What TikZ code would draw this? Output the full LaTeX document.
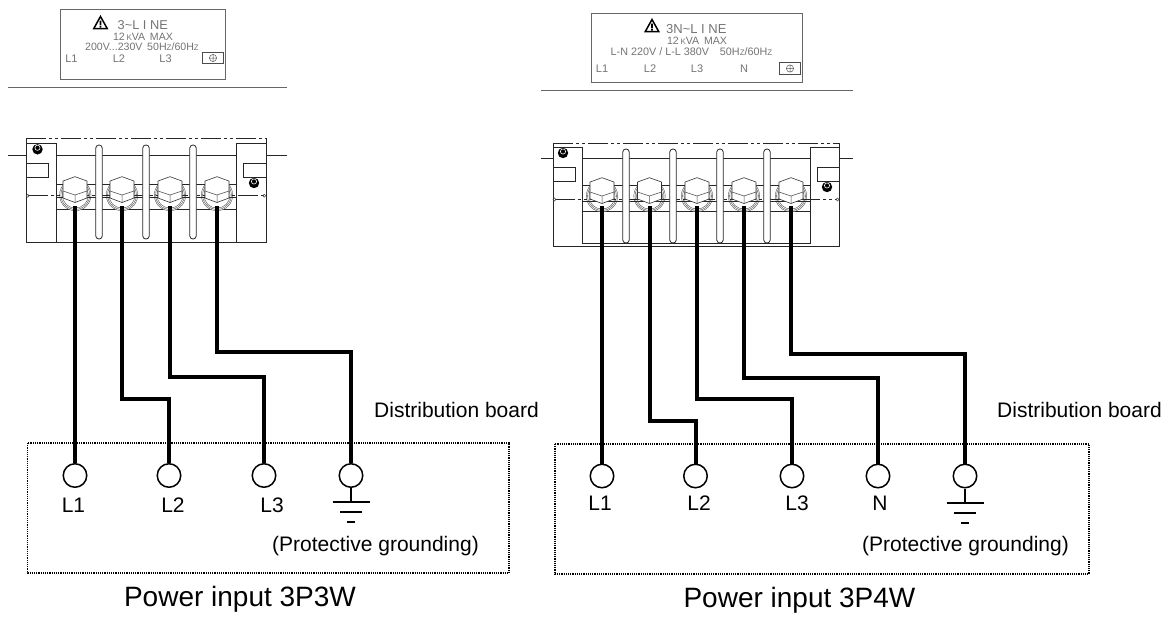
\documentclass[tikz,border=0pt]{standalone}
\usepackage{fontspec}
\setmainfont{Liberation Sans}
\tikzset{
  x=1pt,y=-1pt,
  wire/.style={line width=4pt,black,line join=miter},
  thin line/.style={line width=0.8pt,black!85},
  grayline/.style={line width=0.8pt,black!60},
  dashdot/.style={thin line,dash pattern=on 20pt off 3pt on 3pt off 3pt on 3pt off 3pt},
  dotbox/.style={line width=1.2pt,dash pattern=on 1.2pt off 1pt,black},
  terminal/.style={circle,draw=black,line width=1.5pt,fill=white,minimum size=23.5pt,inner sep=0pt},
  lab/.style={font=\fontsize{21pt}{23pt}\selectfont,inner sep=0pt,text=black},
  captext/.style={font=\fontsize{28pt}{30pt}\selectfont,inner sep=0pt,text=black},
  plab/.style={font=\fontsize{#1}{#1}\selectfont,inner sep=0pt,text=black!55},
  pics/washer/.style={code={
    \fill[white] (0,0) circle (15.7);
    \foreach \r in {15.7,14.4,13.1}{\draw[line width=0.4pt,black!70] (0,0) circle (\r);}
  }},
  pics/hexhead/.style={code={
    \draw[line width=0.6pt,black!80,fill=white] (0,-18.3) -- (12,-14) -- (12,3) -- (0,7.5) -- (-12,3) -- (-12,-14) -- cycle;
    \draw[line width=0.5pt,black!70] (-12,-4) -- (0,0) -- (12,-4) (0,0) -- (0,7.5);
  }},
  pics/screw/.style={code={
    \fill[black] (0,0) circle (5.2);
    \draw[white,line width=0.6pt] (0,-1.5) circle (2.6);
  }},
  pics/warn/.style={code={
    \draw[black,line width=1.5pt,line join=miter,fill=white] (0,-6.5) -- (6.7,5.5) -- (-6.7,5.5) -- cycle;
    \fill[black] (-0.8,-2.5) rectangle (0.8,2) (-0.8,2.9) rectangle (0.8,4.5);
  }},
  pics/pe/.style={code={
    \draw[line width=0.7pt,black!70] (-10.3,-5.7) rectangle (10.3,5.7);
    \draw[line width=0.5pt,black!65] (0,0) circle (3.6) (-3.6,0) -- (3.6,0) (0,-3.6) -- (0,3.6);
  }},
}
\newcommand{\earthsym}[2]{% x, top y
  \draw[line width=1.3pt] (#1,#2) -- (#1,#2+14);
  \draw[line width=1.3pt] (#1-18.5,#2+14) -- (#1+18.5,#2+14);
  \draw[line width=1.5pt] (#1-11,#2+24) -- (#1+11,#2+24);
  \draw[line width=1.7pt] (#1-4,#2+34) -- (#1+4,#2+34);
}
\newcommand{\smz}{{\fontsize{8pt}{8pt}\selectfont Z}}
\begin{document}
\begin{tikzpicture}
\useasboundingbox (0,0) rectangle (1169,616);
% ---------- LEFT plate
\draw[grayline] (60,9) rectangle (225,79);
\pic at (100.5,23) {warn};
\node[plab=12.8pt,anchor=west] (a1) at (117.5,25) {3\textasciitilde L I NE};
\node[plab=10.6pt] (a2) at (143,37) {12\,{\fontsize{8pt}{8pt}\selectfont K}VA\, MAX};
\node[plab=10.6pt] (a3) at (142,47) {200V...230V\, 50H\smz/60H\smz};
\node[plab=11pt] (a4) at (71.5,59) {L1};
\node[plab=11pt] (a5) at (119,59) {L2};
\node[plab=11pt] (a6) at (165.5,59) {L3};
\pic at (213,58) {pe};
\draw[grayline] (8,87) -- (287,87);
% LEFT block
\draw[thin line] (8,155) -- (26,155) (266,155) -- (287,155);
\draw[thin line] (26,138) -- (26,242) -- (266,242) -- (266,138);
\draw[dashdot] (26,138.5) -- (266,138.5);
\draw[thin line] (26,143) -- (56,143) -- (56,242) (266,143) -- (236,143) -- (236,242);
\draw[thin line] (56,155) -- (236,155) (56,184) -- (236,184) (56,209) -- (236,209);
\draw[thin line] (26,163.5) -- (48,163.5) -- (48,177) -- (26,177);
\draw[thin line] (266,163.5) -- (243.5,163.5) -- (243.5,177) -- (266,177);
\foreach \bx in {75.3,122,170,217}{\pic at (\bx,195) {washer};}
\draw[dashdot] (28,195) -- (264,195);
\draw[thin line] (56,197.5) -- (236,197.5);
\draw[line width=0.5pt,black!70] (27.8,195.7) circle (1.5) (264.2,195.7) circle (1.5);
\foreach \sx in {99,146,193}{\draw[thin line,fill=white,rounded corners=3.2pt] (\sx-3.3,145) rectangle (\sx+3.3,239);}
\pic at (37.5,149.3) {screw};
\pic at (254,183) {screw};
\foreach \bx/\nm in {75/la,122/lb,170/lc,217/ld}{
  \pic at (\bx,195) {hexhead};
  \coordinate (\nm) at (\bx,206);
}
\node[terminal] (l1) at (75,475.5) {};
\node[terminal] (l2) at (169,475.5) {};
\node[terminal] (l3) at (264,475.5) {};
\node[terminal] (l4) at (351,475.5) {};
\draw[wire] (la) -- (l1);
\draw[wire] (lb) -- (122,398.5) -| (l2);
\draw[wire] (lc) -- (170,377) -| (l3);
\draw[wire] (ld) -- (217,351.5) -| (l4);
\earthsym{351}{488}
\draw[dotbox] (27.5,443) rectangle (509,573);
\node[lab] (n1) at (73.5,505) {L1};
\node[lab] (n2) at (173,505) {L2};
\node[lab] (n3) at (272,505) {L3};
\node[lab,anchor=east] (n5) at (479,546) {(Protective grounding)};
\node[lab,anchor=west] (n6) at (374,410) {Distribution board};
\node[captext] (n7) at (240,599) {Power input 3P3W};
% ---------- RIGHT plate
\draw[grayline] (591,13) rectangle (802,82);
\pic at (652,26) {warn};
\node[plab=13pt,anchor=west] (b1) at (666,29) {3N\textasciitilde L I NE};
\node[plab=10.6pt] (b2) at (697,40.7) {12\,{\fontsize{8pt}{8pt}\selectfont K}VA\, MAX};
\node[plab=10.8pt] (b3) at (691.5,51.7) {L-N 220V / L-L 380V\quad 50H\smz/60H\smz};
\node[plab=11pt] (b4) at (602,69) {L1};
\node[plab=11pt] (b5) at (650,69) {L2};
\node[plab=11pt] (b6) at (697,69) {L3};
\node[plab=11pt] (b7) at (744,69) {N};
\pic at (790,68.5) {pe};
\draw[grayline] (541,90) -- (853,90);
% RIGHT block
\draw[thin line] (541,158.5) -- (553,158.5) (839,158.5) -- (853,158.5);
\draw[thin line] (553,143) -- (553,246) -- (839,246) -- (839,143);
\draw[dashdot] (553,143) -- (839,143);
\draw[thin line] (553,147.5) -- (582.5,147.5) -- (582.5,243.5) -- (810,243.5) -- (810,147.5) -- (839,147.5);
\draw[thin line] (582,158.5) -- (810,158.5) (582,185) -- (810,185) (582,211) -- (810,211);
\draw[thin line] (553,167.5) -- (575,167.5) -- (575,181) -- (553,181);
\draw[thin line] (839,167.5) -- (817.5,167.5) -- (817.5,181) -- (839,181);
\foreach \bx in {602,649.5,697,744,791}{\pic at (\bx,196) {washer};}
\draw[dashdot] (555,199) -- (837,199);
\draw[thin line] (582,201.5) -- (810,201.5);
\draw[line width=0.5pt,black!70] (554.5,199.5) circle (1.5) (837.5,199.5) circle (1.5);
\foreach \sx in {626,673,720,767}{\draw[thin line,fill=white,rounded corners=3.2pt] (\sx-3.3,149) rectangle (\sx+3.3,243);}
\pic at (563,153) {screw};
\pic at (827,187) {screw};
\foreach \bx/\nm in {602/ra,649.5/rb,697/rc,744/rd,791/re}{
  \pic at (\bx,196) {hexhead};
  \coordinate (\nm) at (\bx,206);
}
\node[terminal] (r1) at (602,476) {};
\node[terminal] (r2) at (695.5,476) {};
\node[terminal] (r3) at (792,476) {};
\node[terminal] (r4) at (878,476) {};
\node[terminal] (r5) at (965,476) {};
\draw[wire] (ra) -- (r1);
\draw[wire] (rb) -- (649.5,421) -| (r2);
\draw[wire] (rc) -- (697,398.5) -| (r3);
\draw[wire] (rd) -- (744,378) -| (r4);
\draw[wire] (re) -- (791,354) -| (r5);
\earthsym{965}{489}
\draw[dotbox] (555,444) rectangle (1089,574);
\node[lab] (q1) at (600,503) {L1};
\node[lab] (q2) at (699,503) {L2};
\node[lab] (q3) at (797,503) {L3};
\node[lab] (q4) at (880,503) {N};
\node[lab,anchor=east] (q5) at (1069,546) {(Protective grounding)};
\node[lab,anchor=east] (q6) at (1162,410) {Distribution board};
\node[captext] (q7) at (799.5,600) {Power input 3P4W};
\end{tikzpicture}
\end{document}
